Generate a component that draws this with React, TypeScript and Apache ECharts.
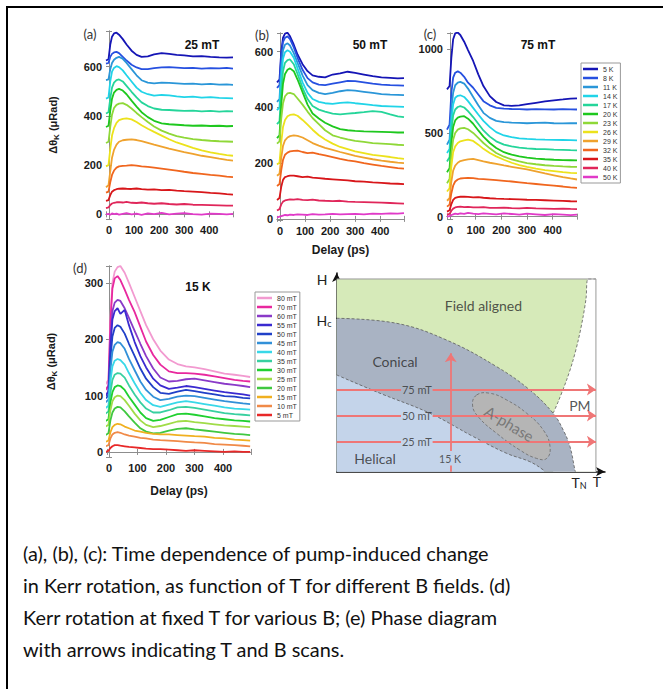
import React, { useEffect, useRef } from 'react';
import * as echarts from 'echarts';

// ---------- data ----------
const delays = [-12, -2, 5, 12, 20, 30, 40, 55, 70, 90, 110, 130, 155, 180, 210, 240, 270, 300, 335, 370, 405, 440, 470, 495];

const tempLabels = ['5 K', '8 K', '11 K', '14 K', '17 K', '20 K', '23 K', '26 K', '29 K', '32 K', '35 K', '40 K', '50 K'];
const tempColors = ['#1515b5', '#2650e0', '#2a96d8', '#20d4e8', '#25d59a', '#1ec81e', '#8fd838', '#ece21c', '#efa22e', '#f0661e', '#d8161a', '#e0265a', '#e03ac8'];

// (a) 25 mT
const panelA = [
  [625, 630, 690, 722, 735, 738, 730, 712, 690, 665, 648, 640, 642, 650, 655, 652, 648, 646, 642, 643, 640, 638, 637, 638],
  [612, 615, 640, 652, 658, 660, 655, 640, 625, 608, 597, 590, 590, 594, 597, 598, 596, 594, 595, 592, 594, 593, 595, 592],
  [545, 548, 590, 615, 628, 636, 640, 632, 615, 590, 565, 545, 535, 532, 535, 534, 532, 530, 531, 528, 530, 527, 528, 526],
  [470, 475, 540, 580, 595, 602, 598, 585, 565, 540, 515, 498, 488, 482, 485, 483, 479, 476, 478, 474, 476, 473, 472, 471],
  [410, 415, 470, 515, 535, 545, 548, 540, 522, 498, 475, 455, 440, 430, 425, 424, 422, 420, 421, 418, 420, 417, 419, 418],
  [355, 360, 420, 470, 495, 506, 510, 503, 488, 462, 438, 415, 395, 380, 370, 366, 364, 362, 360, 361, 359, 360, 358, 359],
  [290, 295, 355, 405, 432, 445, 450, 452, 445, 430, 412, 395, 375, 357, 340, 328, 318, 312, 306, 302, 299, 297, 296, 295],
  [195, 200, 265, 320, 350, 372, 383, 388, 390, 386, 375, 362, 348, 335, 320, 305, 292, 282, 270, 260, 252, 246, 241, 238],
  [110, 118, 175, 230, 262, 283, 295, 301, 303, 305, 302, 297, 290, 283, 275, 267, 260, 253, 246, 238, 232, 226, 221, 218],
  [88, 92, 130, 160, 178, 190, 195, 197, 198, 200, 198, 195, 193, 190, 186, 182, 178, 173, 168, 164, 160, 157, 153, 151],
  [55, 58, 78, 92, 98, 102, 104, 105, 104, 103, 105, 102, 100, 101, 98, 99, 96, 94, 92, 90, 87, 85, 82, 80],
  [25, 28, 38, 44, 47, 49, 50, 48, 51, 47, 46, 48, 45, 43, 45, 42, 40, 42, 39, 38, 37, 36, 35, 35],
  [0, 2, -2, 4, 1, 3, -1, 2, 5, 0, 3, -2, 4, 1, 6, 0, 3, 5, 1, -1, 3, 2, 0, 2],
];

// (b) 50 mT
const panelB = [
  [490, 500, 600, 650, 665, 668, 655, 625, 590, 555, 530, 515, 510, 508, 518, 522, 528, 524, 518, 512, 508, 506, 504, 505],
  [470, 480, 585, 635, 650, 655, 645, 615, 578, 535, 505, 490, 482, 480, 485, 490, 495, 494, 490, 485, 482, 480, 479, 478],
  [420, 430, 545, 605, 625, 630, 622, 595, 560, 515, 480, 462, 452, 448, 452, 458, 462, 460, 456, 452, 448, 446, 445, 444],
  [390, 400, 510, 575, 598, 605, 600, 578, 540, 490, 452, 430, 420, 415, 413, 416, 418, 415, 412, 408, 405, 404, 403, 402],
  [340, 350, 460, 530, 560, 570, 572, 555, 520, 470, 430, 405, 392, 385, 378, 375, 378, 380, 383, 387, 384, 375, 368, 365],
  [290, 300, 410, 485, 520, 535, 540, 530, 500, 455, 410, 378, 360, 345, 332, 322, 318, 316, 314, 313, 312, 311, 310, 310],
  [270, 278, 360, 415, 440, 450, 452, 448, 432, 410, 385, 362, 340, 318, 300, 292, 285, 280, 276, 272, 270, 268, 266, 265],
  [195, 202, 275, 330, 355, 368, 373, 375, 370, 355, 338, 320, 300, 285, 270, 258, 250, 242, 236, 230, 226, 222, 218, 215],
  [155, 162, 220, 262, 282, 292, 297, 300, 298, 292, 282, 272, 263, 255, 248, 240, 233, 226, 220, 214, 209, 205, 202, 200],
  [118, 125, 175, 212, 230, 238, 242, 244, 245, 240, 236, 238, 232, 228, 222, 215, 210, 206, 200, 195, 190, 186, 182, 180],
  [68, 75, 115, 140, 150, 153, 155, 155, 153, 150, 152, 148, 146, 144, 142, 140, 138, 135, 134, 131, 129, 127, 126, 125],
  [30, 35, 52, 62, 66, 68, 70, 69, 71, 68, 67, 69, 66, 65, 64, 65, 62, 61, 60, 59, 58, 57, 56, 55],
  [5, 8, 10, 12, 14, 13, 15, 14, 16, 15, 14, 17, 15, 16, 18, 16, 17, 18, 16, 19, 18, 20, 19, 21],
];

// (c) 75 mT
const panelC = [
  [760, 780, 950, 1060, 1095, 1100, 1085, 1045, 995, 930, 850, 780, 720, 685, 665, 662, 665, 672, 680, 688, 695, 700, 705, 706],
  [520, 550, 740, 830, 860, 868, 860, 835, 800, 770, 730, 690, 665, 650, 645, 643, 642, 640, 642, 641, 640, 642, 641, 640],
  [430, 460, 640, 740, 785, 800, 805, 795, 765, 715, 665, 620, 590, 572, 565, 562, 560, 558, 560, 562, 558, 557, 558, 558],
  [380, 405, 570, 670, 710, 722, 725, 715, 690, 650, 610, 572, 535, 505, 485, 475, 468, 465, 462, 460, 459, 458, 457, 456],
  [330, 355, 510, 605, 640, 655, 660, 652, 630, 595, 555, 515, 478, 450, 430, 420, 412, 408, 404, 403, 400, 399, 397, 396],
  [265, 290, 440, 535, 575, 592, 598, 600, 585, 555, 515, 478, 440, 410, 385, 370, 360, 352, 347, 343, 340, 338, 337, 336],
  [200, 225, 370, 460, 500, 520, 527, 530, 522, 500, 470, 440, 408, 380, 358, 342, 330, 320, 313, 307, 303, 300, 298, 297],
  [150, 170, 300, 385, 420, 440, 450, 455, 460, 452, 430, 405, 380, 360, 340, 322, 308, 297, 287, 278, 272, 266, 262, 260],
  [95, 110, 210, 275, 305, 322, 332, 338, 342, 345, 338, 330, 322, 315, 306, 298, 290, 282, 270, 258, 247, 236, 228, 222],
  [60, 72, 140, 185, 210, 222, 228, 230, 232, 230, 226, 224, 221, 218, 214, 210, 205, 200, 195, 190, 185, 180, 175, 172],
  [30, 38, 75, 100, 112, 117, 119, 120, 118, 115, 117, 113, 110, 108, 106, 105, 103, 101, 100, 98, 96, 94, 92, 91],
  [12, 16, 35, 48, 55, 58, 60, 57, 59, 56, 55, 57, 53, 52, 54, 51, 50, 52, 49, 48, 47, 48, 46, 45],
  [0, 3, 10, 14, 18, 15, 20, 16, 22, 18, 15, 20, 17, 14, 19, 16, 12, 18, 14, 10, 15, 12, 9, 12],
];

// (d) 15 K
const fieldLabels = ['80 mT', '70 mT', '60 mT', '55 mT', '50 mT', '45 mT', '40 mT', '35 mT', '30 mT', '25 mT', '20 mT', '15 mT', '10 mT', '5 mT'];
const fieldColors = ['#f29ad0', '#e8289e', '#8a3ac8', '#3a2ad0', '#2040c8', '#3290d8', '#38d8e8', '#38d0a0', '#20d030', '#a0dc48', '#40c840', '#f0b020', '#f08a48', '#e82828'];
const panelD = [
  [120, 128, 240, 300, 320, 328, 330, 318, 300, 275, 250, 225, 200, 180, 164, 156, 152, 150, 147, 143, 139, 137, 135, 133],
  [110, 118, 230, 290, 308, 312, 305, 288, 270, 248, 222, 196, 172, 155, 143, 140, 140, 139, 137, 134, 131, 128, 126, 125],
  [100, 108, 200, 250, 265, 270, 268, 255, 238, 215, 192, 170, 148, 132, 125, 126, 129, 130, 127, 124, 121, 119, 117, 115],
  [100, 106, 185, 235, 250, 255, 245, 252, 225, 195, 170, 150, 130, 118, 112, 114, 117, 115, 112, 109, 106, 104, 102, 100],
  [95, 100, 165, 205, 220, 225, 222, 210, 192, 170, 148, 130, 115, 105, 103, 107, 110, 108, 105, 102, 99, 98, 96, 95],
  [88, 93, 145, 178, 190, 195, 193, 183, 165, 145, 125, 110, 98, 92, 94, 98, 100, 99, 96, 93, 90, 88, 86, 85],
  [78, 82, 125, 152, 162, 165, 163, 155, 140, 122, 105, 92, 83, 80, 84, 88, 90, 88, 85, 82, 79, 77, 76, 75],
  [68, 72, 105, 128, 137, 140, 139, 132, 118, 102, 88, 77, 70, 70, 74, 79, 80, 78, 75, 72, 69, 67, 66, 65],
  [55, 58, 88, 106, 115, 118, 117, 110, 98, 84, 70, 60, 55, 57, 62, 67, 68, 66, 63, 60, 58, 56, 55, 54],
  [45, 48, 74, 90, 97, 100, 99, 92, 82, 68, 56, 48, 44, 46, 50, 54, 55, 53, 51, 49, 47, 46, 45, 44],
  [30, 33, 56, 70, 77, 80, 79, 72, 63, 52, 42, 36, 33, 34, 38, 41, 42, 40, 38, 36, 34, 32, 31, 30],
  [18, 20, 35, 44, 48, 50, 49, 45, 42, 38, 36, 34, 32, 31, 31, 30, 29, 28, 27, 25, 24, 22, 21, 20],
  [10, 12, 24, 31, 34, 35, 34, 31, 29, 27, 25, 24, 22, 21, 20, 19, 18, 17, 16, 14, 13, 12, 11, 10],
  [0, 2, 7, 10, 12, 12, 11, 10, 9, 8, 7, 6, 5, 5, 4, 3, 2, 3, 2, 1, 0, 1, 0, 0],
];

const xTickLabels = [0, 100, 200, 300, 400];
const yTicksA = [0, 200, 400, 600];
const yTicksB = [0, 200, 400, 600];
const yTicksC = [0, 500, 1000];
const yTicksD = [0, 100, 200, 300];

// (e) phase diagram, normalised T (0-100) and H (0-100)
const fieldAlignedEdge = [[83.5, 30.3], [85.5, 36.5], [88.7, 47.6], [91, 57], [93.2, 68.3], [95, 80], [96.2, 90], [97, 100], [100, 100]];
const conicalEdge = [[0, 79.6], [23.1, 77.0], [42.4, 68.3], [61.7, 54.5], [74.5, 42.4], [83.5, 30.3], [87.4, 21.6], [90.0, 13.0], [91.9, 0.9], [92.1, 0]];
const helicalEdge = [[0, 50.2], [16.7, 40.7], [36.0, 30.3], [52.7, 18.2], [65.6, 9.5], [74.5, 5.2], [79.7, 0.9], [80, 0]];
const aPhaseOutline = [[54.0, 39.8], [59.1, 40.7], [65.6, 37.2], [73.3, 30.3], [79.7, 21.6], [82.3, 13.0], [81.0, 6.9], [77.1, 6.9], [70.7, 11.2], [61.7, 19.9], [54.6, 28.5], [52.4, 34.6]];
const boxEdge = [[0, 100], [100, 100], [100, 0]];
const fieldScanLevels = [42.7, 29.2, 15.6];
const fieldScanGap = [24.8, 37.0];
const tempScanX = 44.0;
const tempScanSegments = [[0, 3.2], [10.8, 61.4]];
const hcLevel = 79.6;
const phaseTexts = [
  { name: 'Field aligned', value: [56.6, 86.0], size: 14, color: '#2a2a2a', rotate: 0 },
  { name: 'Conical', value: [22.5, 57.4], size: 14, color: '#2a2a2a', rotate: 0 },
  { name: 'Helical', value: [14.8, 6.7], size: 14, color: '#2a2a2a', rotate: 0 },
  { name: 'PM', value: [93.8, 34.6], size: 14, color: '#2a2a2a', rotate: 0 },
  { name: '75 mT', value: [30.9, 42.7], size: 11, color: '#333', rotate: 0 },
  { name: '50 mT', value: [30.9, 29.2], size: 11, color: '#333', rotate: 0 },
  { name: '25 mT', value: [30.9, 15.6], size: 11, color: '#333', rotate: 0 },
  { name: '15 K', value: [43.7, 6.6], size: 10.5, color: '#333', rotate: 0 },
  { name: 'A-phase', value: [66.6, 25.0], size: 15, color: '#686868', rotate: -31 },
];

const captionLines = [
  '(a), (b), (c): Time dependence of pump-induced change',
  'in Kerr rotation, as function of T for different B fields. (d)',
  'Kerr rotation at fixed T for various B; (e) Phase diagram',
  'with arrows indicating T and B scans.',
];

// ---------- helpers ----------
const TICK_FONT = 'Liberation Sans';
const FRAME = '#8d8d8d';

function panelAxes(grid: number, xr: number[], yr: number[], yTicks: number[], ySplit: number, xName: string, xGap: number, yName: string, yGap: number) {
  const xBottom: any = {
    type: 'value', gridIndex: grid, min: xr[0], max: xr[1], splitNumber: 5,
    axisLine: { lineStyle: { color: FRAME, width: 1 } },
    axisTick: { inside: true, length: 3, lineStyle: { color: FRAME } },
    axisLabel: {
      formatter: (v: number) => (xTickLabels.includes(Math.round(v)) && Math.abs(v - Math.round(v)) < 1e-6 ? String(Math.round(v)) : ''),
      color: '#1a1a1a', fontWeight: 'bold', fontSize: 11, fontFamily: TICK_FONT, margin: 5,
    },
    splitLine: { show: false },
    name: xName, nameLocation: 'middle', nameGap: xGap,
    nameTextStyle: { fontWeight: 'bold', fontSize: 12, fontFamily: TICK_FONT, color: '#1a1a1a' },
  };
  const xTop: any = {
    type: 'value', gridIndex: grid, min: xr[0], max: xr[1], splitNumber: 5, position: 'top',
    axisLine: { lineStyle: { color: FRAME, width: 1 } },
    axisTick: { inside: true, length: 3, lineStyle: { color: FRAME } },
    axisLabel: { show: false }, splitLine: { show: false },
  };
  const yLeft: any = {
    type: 'value', gridIndex: grid, min: yr[0], max: yr[1], splitNumber: ySplit,
    axisLine: { lineStyle: { color: FRAME, width: 1 } },
    axisTick: { inside: true, length: 3, lineStyle: { color: FRAME } },
    axisLabel: {
      formatter: (v: number) => (yTicks.includes(Math.round(v)) && Math.abs(v - Math.round(v)) < 1e-6 ? String(Math.round(v)) : ''),
      color: '#1a1a1a', fontWeight: 'bold', fontSize: 11, fontFamily: TICK_FONT, margin: 4,
    },
    splitLine: { show: false },
    name: yName, nameLocation: 'middle', nameGap: yGap, nameRotate: 90,
    nameTextStyle: {
      fontFamily: TICK_FONT, color: '#1a1a1a',
      rich: {
        a: { fontSize: 11, fontWeight: 'bold', fontFamily: TICK_FONT, color: '#1a1a1a' },
        s: { fontSize: 8, fontWeight: 'bold', fontFamily: TICK_FONT, color: '#1a1a1a', padding: [6, 0, 0, 0] },
      },
    },
  };
  const yRight: any = {
    type: 'value', gridIndex: grid, min: yr[0], max: yr[1], splitNumber: ySplit, position: 'right',
    axisLine: { lineStyle: { color: FRAME, width: 1 } },
    axisTick: { inside: true, length: 3, lineStyle: { color: FRAME } },
    axisLabel: { show: false }, splitLine: { show: false },
  };
  return { xs: [xBottom, xTop], ys: [yLeft, yRight] };
}

function curveSeries(names: string[], colors: string[], data: number[][], axis: number) {
  return names.map((name, i) => ({
    type: 'line', name, xAxisIndex: axis, yAxisIndex: axis,
    data: delays.map((d, j) => [d, data[i][j]]),
    showSymbol: false, symbol: 'none', silent: true,
    lineStyle: { width: 1.8, color: colors[i] }, itemStyle: { color: colors[i] },
    z: 3,
  }));
}

const Y_NAME = '{a|Δθ}{s|K}{a| (μRad)}';

export default function App() {
  const ref = useRef<HTMLDivElement>(null);
  useEffect(() => {
    if (!ref.current) return;
    const chart = echarts.init(ref.current, undefined, { renderer: 'svg' });

    const pa = panelAxes(0, [-12, 495], [-19, 745], yTicksA, 4, '', 0, Y_NAME, 46);
    const pb = panelAxes(1, [-12, 495], [-4, 667], yTicksB, 4, 'Delay (ps)', 24, '', 0);
    const pc = panelAxes(2, [-12, 495], [-14, 1097], yTicksC, 2, '', 0, '', 0);
    const pd = panelAxes(3, [-7, 498], [-9, 330], yTicksD, 3, 'Delay (ps)', 28, Y_NAME, 49);

    const phaseX: any = {
      type: 'value', gridIndex: 4, min: 0, max: 103.5,
      axisLine: { show: true, onZero: false, symbol: ['none', 'arrow'], symbolSize: [7, 9], lineStyle: { color: '#111', width: 1.5 } },
      axisTick: { show: false }, axisLabel: { show: false }, splitLine: { show: false },
    };
    const phaseY: any = {
      type: 'value', gridIndex: 4, min: 0, max: 103.1,
      axisLine: { show: true, onZero: false, symbol: ['none', 'arrow'], symbolSize: [7, 9], lineStyle: { color: '#111', width: 1.5 } },
      axisTick: { show: false }, axisLabel: { show: false }, splitLine: { show: false },
    };

    const P = 8; // phase axis index
    const dashed = { type: [3, 2] as any, color: '#5a5a5a', width: 0.8 };

    const phaseSeries: any[] = [
      { type: 'line', xAxisIndex: P, yAxisIndex: P, data: [[0, 100], [100, 100]], symbol: 'none', silent: true,
        lineStyle: { width: 0 }, areaStyle: { color: '#d6eab9', opacity: 1 }, z: 1 },
      { type: 'line', xAxisIndex: P, yAxisIndex: P, data: fieldAlignedEdge, symbol: 'none', silent: true, smooth: 0.3,
        lineStyle: dashed, areaStyle: { color: '#ffffff', opacity: 1 }, z: 2 },
      { type: 'line', xAxisIndex: P, yAxisIndex: P, data: conicalEdge, symbol: 'none', silent: true, smooth: 0.4,
        lineStyle: dashed, areaStyle: { color: '#a9b3c3', opacity: 1 }, z: 3 },
      { type: 'line', xAxisIndex: P, yAxisIndex: P, data: helicalEdge, symbol: 'none', silent: true, smooth: 0.4,
        lineStyle: dashed, areaStyle: { color: '#c4d4ea', opacity: 1 }, z: 4 },
      { type: 'custom', xAxisIndex: P, yAxisIndex: P, data: [[0, 0]], silent: true, z: 5,
        renderItem: (_p: any, api: any) => ({
          type: 'polygon',
          shape: { points: aPhaseOutline.map((pt) => api.coord(pt)), smooth: 0.45 },
          style: { fill: '#b5b5b5', stroke: '#6a6a6a', lineDash: [3, 2], lineWidth: 0.8 },
        }) },
      { type: 'line', xAxisIndex: P, yAxisIndex: P, data: boxEdge, symbol: 'none', silent: true,
        lineStyle: { color: '#9a9a9a', width: 1 }, z: 6 },
      { type: 'line', xAxisIndex: P, yAxisIndex: P, data: [[-1.6, hcLevel], [0, hcLevel]], symbol: 'none', silent: true,
        lineStyle: { color: '#111', width: 1 }, z: 6, clip: false },
      { type: 'lines', coordinateSystem: 'cartesian2d', xAxisIndex: P, yAxisIndex: P, silent: true, z: 7,
        symbol: ['none', 'none'],
        lineStyle: { color: '#ef7676', width: 1.8, opacity: 1, curveness: 0 },
        data: [
          ...fieldScanLevels.map((y) => ({ coords: [[0, y], [fieldScanGap[0], y]] })),
          { coords: [[tempScanX, tempScanSegments[0][0]], [tempScanX, tempScanSegments[0][1]]] },
        ] },
      { type: 'lines', coordinateSystem: 'cartesian2d', xAxisIndex: P, yAxisIndex: P, silent: true, z: 7,
        symbol: ['none', 'arrow'], symbolSize: 9,
        lineStyle: { color: '#ef7676', width: 1.8, opacity: 1, curveness: 0 },
        data: [
          ...fieldScanLevels.map((y) => ({ coords: [[fieldScanGap[1], y], [100, y]] })),
          { coords: [[tempScanX, tempScanSegments[1][0]], [tempScanX, tempScanSegments[1][1]]] },
        ] },
      { type: 'scatter', xAxisIndex: P, yAxisIndex: P, silent: true, z: 8, symbolSize: 2,
        itemStyle: { color: 'rgba(0,0,0,0)' },
        data: phaseTexts.map((t) => ({
          name: t.name, value: t.value,
          label: { show: true, position: 'inside', formatter: '{b}', fontSize: t.size, color: t.color, fontFamily: 'Lato', rotate: t.rotate },
        })) },
    ];

    const legendCommon: any = {
      orient: 'vertical', padding: [2, 3, 2, 2], itemGap: 1, itemWidth: 15, itemHeight: 2.5, icon: 'rect',
      borderColor: '#999', borderWidth: 1, selectedMode: false,
      textStyle: { fontSize: 7, fontFamily: TICK_FONT, color: '#333', lineHeight: 8 },
    };

    const txt = (text: string, x: number, y: number, size: number, opts: any = {}) => ({
      type: 'text', x, y, silent: true,
      style: { text, fontSize: size, fontFamily: opts.family || 'Lato', fontWeight: opts.weight || 'normal', fill: opts.color || '#222',
        align: opts.align || 'center', verticalAlign: 'middle', textAlign: opts.align || 'center', textVerticalAlign: 'middle', ...(opts.rich ? { rich: opts.rich } : {}) },
    });

    const graphics: any[] = [
      { type: 'rect', shape: { x: 7, y: 7, width: 720, height: 720 }, style: { fill: 'none', stroke: '#000', lineWidth: 2 }, silent: true },
      txt('(a)', 90, 34, 13, { color: '#333' }),
      txt('(b)', 262, 35, 13, { color: '#333' }),
      txt('(c)', 430, 34, 13, { color: '#333' }),
      txt('(d)', 80, 268, 13, { color: '#333' }),
      txt('25 mT', 202, 45, 12, { weight: 'bold', family: TICK_FONT, color: '#111' }),
      txt('50 mT', 370, 45, 12, { weight: 'bold', family: TICK_FONT, color: '#111' }),
      txt('75 mT', 538, 45, 12, { weight: 'bold', family: TICK_FONT, color: '#111' }),
      txt('15 K', 198, 287, 12, { weight: 'bold', family: TICK_FONT, color: '#111' }),
      txt('H', 322, 279, 14, { color: '#222' }),
      txt('{a|H}{s|c}', 324, 320, 14, { color: '#222', rich: { a: { fontSize: 14, fontFamily: 'Lato', fill: '#222' }, s: { fontSize: 9, fontFamily: 'Lato', fill: '#222', padding: [7, 0, 0, 0] } } }),
      txt('{a|T}{s|N}', 579, 482, 14, { color: '#222', rich: { a: { fontSize: 14, fontFamily: 'Lato', fill: '#222' }, s: { fontSize: 9, fontFamily: 'Lato', fill: '#222', padding: [7, 0, 0, 0] } } }),
      txt('T', 597, 481, 14, { color: '#222' }),
      ...captionLines.map((l, i) => txt(l, 23, 553 + i * 32, 19.9, { align: 'left', color: '#111' })),
    ];

    const option: any = {
      animation: false,
      backgroundColor: '#ffffff',
      grid: [
        { left: 106, top: 31, width: 127, height: 188 },
        { left: 277, top: 33, width: 127, height: 187 },
        { left: 447, top: 33, width: 130, height: 186 },
        { left: 107, top: 266, width: 144, height: 191 },
        { left: 336.7, top: 273, width: 268.3, height: 198.7 },
      ],
      xAxis: [...pa.xs, ...pb.xs, ...pc.xs, ...pd.xs, phaseX],
      yAxis: [...pa.ys, ...pb.ys, ...pc.ys, ...pd.ys, phaseY],
      legend: [
        { ...legendCommon, data: tempLabels, left: 581, top: 63 },
        { ...legendCommon, data: fieldLabels, left: 255, top: 292 },
      ],
      series: [
        ...curveSeries(tempLabels, tempColors, panelA, 0),
        ...curveSeries(tempLabels, tempColors, panelB, 2),
        ...curveSeries(tempLabels, tempColors, panelC, 4),
        ...curveSeries(fieldLabels, fieldColors, panelD, 6),
        ...phaseSeries,
      ],
      graphic: graphics,
    };
    chart.setOption(option);
    return () => chart.dispose();
  }, []);

  return <div ref={ref} style={{ position: 'absolute', left: 0, top: 0, width: 663, height: 689, background: '#fff' }} />;
}
